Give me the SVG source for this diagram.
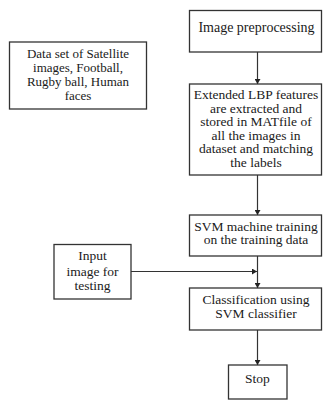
<svg xmlns="http://www.w3.org/2000/svg" width="323" height="400" viewBox="0 0 323 400">
<style>
.box{fill:#fff;stroke:#333;stroke-width:1.3}
.t{font-family:"Liberation Serif","Times New Roman",serif;font-size:13.5px;fill:#1a1a1a;text-anchor:middle}
.s{font-size:13px}
.c{stroke:#333;stroke-width:1.2;fill:none}
</style>
<defs>
<marker id="ah" markerWidth="6" markerHeight="6" refX="5" refY="3" orient="auto" markerUnits="userSpaceOnUse">
<path d="M0,0 L5,3 L0,6 Z" fill="#222"/>
</marker>
</defs>
<rect width="323" height="400" fill="#fff"/>
<g id="connectors">
<line class="c" x1="257.5" y1="52" x2="257.5" y2="84" marker-end="url(#ah)"/>
<line class="c" x1="257.5" y1="175" x2="257.5" y2="215" marker-end="url(#ah)"/>
<line class="c" x1="257.5" y1="256" x2="257.5" y2="288" marker-end="url(#ah)"/>
<line class="c" x1="131" y1="271.5" x2="257" y2="271.5" marker-end="url(#ah)"/>
<line class="c" x1="257.5" y1="330" x2="257.5" y2="365" marker-end="url(#ah)"/>
</g>
<g id="dataset">
<rect class="box" x="9.5" y="42" width="137" height="67"/>
<text class="t s" x="78" y="57.5">Data set of Satellite</text>
<text class="t s" x="78" y="72">images, Football,</text>
<text class="t s" x="78" y="86">Rugby ball, Human</text>
<text class="t s" x="78" y="100">faces</text>
</g>
<g id="preprocessing">
<rect class="box" x="189.5" y="10.5" width="132" height="41.5"/>
<text class="t" x="256.5" y="32" style="font-size:14px">Image preprocessing</text>
</g>
<g id="lbp">
<rect class="box" x="189.5" y="84" width="132" height="91"/>
<text class="t" x="256" y="99">Extended LBP features</text>
<text class="t" x="256" y="112.6">are extracted and</text>
<text class="t" x="256" y="126.2">stored in MATfile of</text>
<text class="t" x="256" y="139.8">all the images in</text>
<text class="t" x="256" y="153.4">dataset and matching</text>
<text class="t" x="256" y="167">the labels</text>
</g>
<g id="svmtrain">
<rect class="box" x="189.5" y="215" width="132" height="41"/>
<text class="t" x="256" y="230.5">SVM machine training</text>
<text class="t" x="256" y="244">on the training data</text>
</g>
<g id="input">
<rect class="box" x="54" y="244.5" width="77" height="54.5"/>
<text class="t" x="92.5" y="260">Input</text>
<text class="t" x="92.5" y="275.5">image for</text>
<text class="t" x="92.5" y="290">testing</text>
</g>
<g id="classify">
<rect class="box" x="189.5" y="288" width="132" height="42"/>
<text class="t" x="256" y="303.5">Classification using</text>
<text class="t" x="256" y="317.5">SVM classifier</text>
</g>
<g id="stop">
<rect class="box" x="228.5" y="365" width="58.5" height="34"/>
<text class="t" x="257.5" y="382.5">Stop</text>
</g>
</svg>
